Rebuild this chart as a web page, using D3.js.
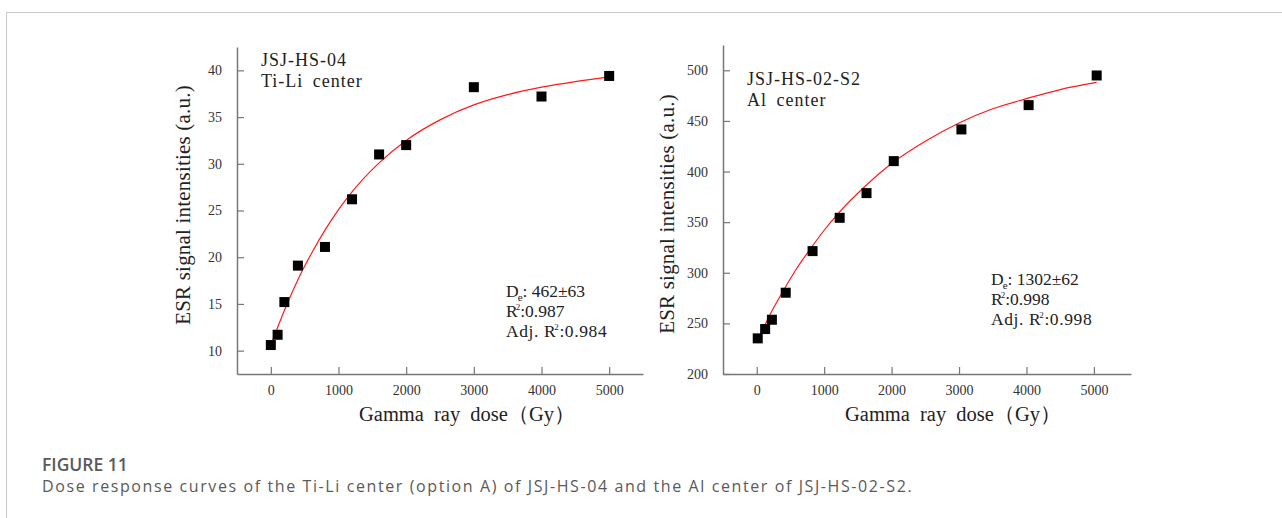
<!DOCTYPE html>
<html>
<head>
<meta charset="utf-8">
<script src="https://cdn.jsdelivr.net/npm/d3@7"></script>
<style>
  body { margin: 0; background: #fff; }
  svg { display: block; }
  .serif { font-family: "Liberation Serif", "DejaVu Serif", serif; }
</style>
</head>
<body>
<script>
const width = 1282;
const height = 518;

// Ti-Li center (JSJ-HS-04)
const tiDose = [0, 100, 200, 400, 800, 1200, 1600, 2000, 3000, 4000, 5000];
const tiSignal = [10.6, 11.7, 15.2, 19.1, 21.1, 26.2, 31.0, 32.0, 38.2, 37.2, 39.4];
// fitted curve
const tiFitDose = [0, 200, 400, 600, 800, 1000, 1200, 1600, 2000, 2500, 3000, 3500, 4000, 4500, 5000];
const tiFitSignal = [10.6, 14.3, 17.6, 20.4, 22.9, 25.1, 27.0, 30.1, 32.5, 34.7, 36.3, 37.4, 38.2, 38.8, 39.3];
const tiYTicks = [10, 15, 20, 25, 30, 35, 40];

// Al center (JSJ-HS-02-S2)
const alDose = [15, 125, 225, 430, 828, 1230, 1628, 2032, 3035, 4032, 5041];
const alSignal = [235.2, 244.4, 253.6, 280.3, 321.4, 354.3, 378.7, 410.3, 441.6, 465.6, 494.9];
const alFitDose = [20, 200, 400, 600, 800, 1000, 1200, 1600, 2000, 2500, 3000, 3500, 4000, 4500, 5040];
const alFitSignal = [234, 259, 283, 305, 324, 342, 358, 385, 408, 430, 448, 462, 472, 481, 488];
const alYTicks = [200, 250, 300, 350, 400, 450, 500];

const xTicks = [0, 1000, 2000, 3000, 4000, 5000];

const svg = d3.select("body").append("svg").attr("width", width).attr("height", height);

// frame lines
svg.append("line").attr("x1", 6).attr("x2", width).attr("y1", 12.5).attr("y2", 12.5)
    .attr("stroke", "#c8c8c8").attr("stroke-width", 1);
svg.append("line").attr("x1", 6.5).attr("x2", 6.5).attr("y1", 12).attr("y2", height)
    .attr("stroke", "#c8c8c8").attr("stroke-width", 1);

function panel(opt) {
    const x = d3.scaleLinear().domain(opt.xDomain).range([opt.left, opt.right]);
    const y = d3.scaleLinear().domain(opt.yDomain).range([opt.bottom, opt.top]);
    const g = svg.append("g");

    // axes (ticks point inward)
    const ax = g.append("g").attr("transform", `translate(0,${opt.bottom})`)
        .call(d3.axisBottom(x).tickValues(xTicks).tickFormat(d3.format("d"))
            .tickSizeInner(-7).tickSizeOuter(0).tickPadding(11));
    const ay = g.append("g").attr("transform", `translate(${opt.left},0)`)
        .call(d3.axisLeft(y).tickValues(opt.yTicks).tickSizeInner(-7).tickSizeOuter(0).tickPadding(15));
    [ax, ay].forEach(a => {
        a.attr("font-family", null).attr("font-size", null);
        a.select(".domain").attr("stroke", "#777").attr("stroke-width", 1.5);
        a.selectAll(".tick line").attr("stroke", "#777").attr("stroke-width", 1.2);
        a.selectAll(".tick text").attr("class", "serif").attr("font-size", 14).attr("fill", "#333");
    });

    // fitted curve
    const line = d3.line().x(d => x(d[0])).y(d => y(d[1])).curve(d3.curveMonotoneX);
    g.append("path")
        .datum(opt.fitX.map((d, i) => [d, opt.fitY[i]]))
        .attr("d", line)
        .attr("fill", "none")
        .attr("stroke", "#ff1a1a")
        .attr("stroke-width", 1.2);

    // data squares
    const s = 10;
    g.selectAll("rect.pt")
        .data(opt.dataX.map((d, i) => [d, opt.dataY[i]]))
        .enter().append("rect")
        .attr("class", "pt")
        .attr("x", d => x(d[0]) - s / 2)
        .attr("y", d => y(d[1]) - s / 2)
        .attr("width", s).attr("height", s)
        .attr("fill", "#000");

    // title lines
    g.append("text").attr("class", "serif")
        .attr("x", opt.titleX).attr("y", opt.titleY)
        .attr("font-size", 18).attr("letter-spacing", 1).attr("word-spacing", 4).attr("fill", "#222")
        .text(opt.title1);
    g.append("text").attr("class", "serif")
        .attr("x", opt.titleX).attr("y", opt.titleY + 20.5)
        .attr("font-size", 18).attr("letter-spacing", 1).attr("word-spacing", 4).attr("fill", "#222")
        .text(opt.title2);

    // stats block
    const st = g.append("g").attr("class", "serif").attr("font-size", 17.5).attr("fill", "#222");
    const t1 = st.append("text").attr("x", opt.statX).attr("y", opt.statY);
    t1.append("tspan").text("D");
    t1.append("tspan").attr("font-size", 11).attr("dy", 4).attr("dx", -1).text("e");
    t1.append("tspan").attr("dy", -4).text(": " + opt.de);
    const t2 = st.append("text").attr("x", opt.statX).attr("y", opt.statY + 19.5);
    t2.append("tspan").text("R");
    t2.append("tspan").attr("font-size", 9).attr("dy", -7).attr("dx", -2).text("2");
    t2.append("tspan").attr("dy", 7).text(":" + opt.r2);
    const t3 = st.append("text").attr("x", opt.statX).attr("y", opt.statY + 39.5).attr("letter-spacing", 0.6);
    t3.append("tspan").text("Adj. R");
    t3.append("tspan").attr("font-size", 9).attr("dy", -7).attr("dx", -2).text("2");
    t3.append("tspan").attr("dy", 7).text(":" + opt.adjR2);

    // axis labels
    g.append("text").attr("class", "serif")
        .attr("transform", `translate(${opt.yLabelX},${opt.yLabelY}) rotate(-90)`)
        .attr("text-anchor", "middle").attr("font-size", 21).attr("letter-spacing", 0.2).attr("fill", "#222")
        .text("ESR signal intensities (a.u.)");
    g.append("text").attr("class", "serif")
        .attr("x", opt.xLabelX).attr("y", 421)
        .attr("text-anchor", "middle").attr("font-size", 20.5).attr("word-spacing", 5).attr("fill", "#222")
        .text("Gamma ray dose（Gy）");
}

panel({
    xDomain: [-500, 5500], yDomain: [7.5, 42.5],
    left: 237, right: 643, top: 47, bottom: 374,
    yTicks: tiYTicks,
    dataX: tiDose, dataY: tiSignal, fitX: tiFitDose, fitY: tiFitSignal,
    title1: "JSJ-HS-04", title2: "Ti-Li center", titleX: 261, titleY: 66,
    de: "462±63", r2: "0.987", adjR2: "0.984", statX: 506, statY: 297,
    yLabelX: 190, yLabelY: 205, xLabelX: 467
});

panel({
    xDomain: [-500, 5550], yDomain: [200, 525],
    left: 723, right: 1131, top: 45, bottom: 374,
    yTicks: alYTicks,
    dataX: alDose, dataY: alSignal, fitX: alFitDose, fitY: alFitSignal,
    title1: "JSJ-HS-02-S2", title2: "Al center", titleX: 747, titleY: 85,
    de: "1302±62", r2: "0.998", adjR2: "0.998", statX: 991, statY: 285,
    yLabelX: 674, yLabelY: 214, xLabelX: 953
});

// caption
svg.append("text")
    .attr("x", 42).attr("y", 470.5)
    .attr("font-family", "'Open Sans', sans-serif").attr("font-weight", 600)
    .attr("font-size", 17.5).attr("fill", "#5a5a5a")
    .text("FIGURE 11");
svg.append("text")
    .attr("x", 42).attr("y", 492)
    .attr("font-family", "'Open Sans', sans-serif")
    .attr("font-size", 16).attr("letter-spacing", 1.6).attr("fill", "#5a5a5a")
    .text("Dose response curves of the Ti-Li center (option A) of JSJ-HS-04 and the Al center of JSJ-HS-02-S2.");
</script>
</body>
</html>
